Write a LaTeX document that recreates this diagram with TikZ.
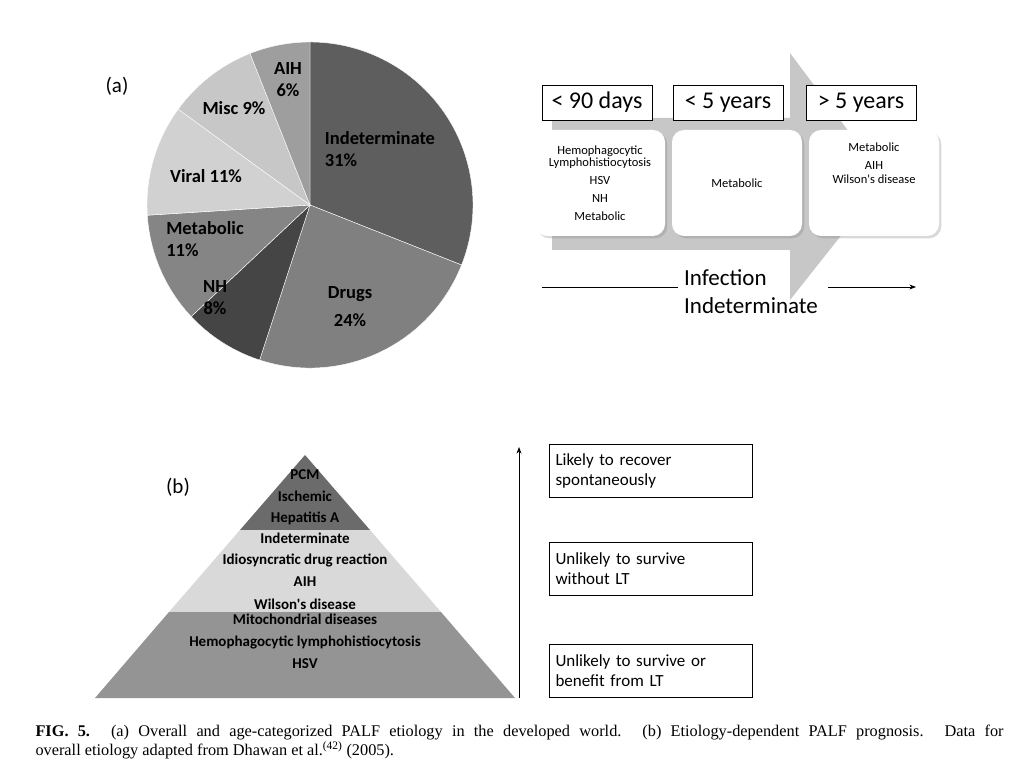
\documentclass[tikz,border=0pt]{standalone}
\usepackage{fontspec}
\setmainfont{Liberation Serif}
\newfontfamily\calib{Carlito}
\usetikzlibrary{arrows.meta, shadows}

\begin{document}
\begin{tikzpicture}[x=1pt, y=1pt,
    every node/.style={font=\calib},
    pielabel/.style={font=\calib\fontsize{18.5}{22}\selectfont\bfseries, align=left},
    agebox/.style={draw, thick, minimum width=110pt, minimum height=35pt, text height=17pt, text depth=5pt, fill=white, font=\calib\fontsize{24}{26}\selectfont},
    listbox/.style={fill=white, rounded corners=12pt, minimum width=130pt, minimum height=106pt, align=center, drop shadow={opacity=0.3}, font=\calib\fontsize{12.5}{18}\selectfont},
    layertext/.style={font=\calib\fontsize{15}{17}\selectfont\bfseries},
    outcome/.style={draw, thick, minimum width=203pt, minimum height=53pt, text width=190pt, align=left, font=\calib\fontsize{17}{20}\selectfont},
    arrow/.style={-Stealth, thick}
]
\useasboundingbox (0,0) rectangle (1024,774);

% (a) pie chart
\coordinate (pc) at (310,569);
\foreach \a/\b/\g in {90/-21.6/37, -21.6/-108/50, -108/-136.8/27, -136.8/-176.4/52, -176.4/-216/82, -216/-248.4/78, -248.4/-270/62}
  \fill[white!\g!black, draw=white, thin] (pc) -- ++(\a:163) arc[start angle=\a, end angle=\b, radius=163] -- cycle;
\node[font=\calib\fontsize{21}{24}\selectfont] (lbla) at (117,688) {(a)};
\node[pielabel, align=center] (paih) at (288,694) {AIH\\6\%};
\node[pielabel] (pmisc) at (234,666) {Misc 9\%};
\node[pielabel] (pind) at (380,625) {Indeterminate\\31\%};
\node[pielabel] (pvir) at (206,598) {Viral 11\%};
\node[pielabel] (pmet) at (205,535) {Metabolic\\11\%};
\node[pielabel, align=center] (pnh) at (215,476) {NH\\8\%};
\node[pielabel, align=center] (pdrg) at (350,467) {Drugs\\[6pt]24\%};

% age groups on a big arrow
\fill[black!22] (552,656) -- (790,656) -- (790,721) -- (885,594) -- (790,474) -- (790,524) -- (552,524) -- cycle;
\node[agebox] (age1) at (597,671) {< 90 days};
\node[agebox] (age2) at (728,671) {< 5 years};
\node[agebox] (age3) at (861,671) {> 5 years};
\node[listbox] (lst1) at (600,591) {Hemophagocytic\\[-6pt]Lymphohistiocytosis\\HSV\\NH\\Metabolic};
\node[listbox] (lst2) at (737,591) {Metabolic};
\node[listbox] (lst3) at (874,591) {Metabolic\\AIH\\[-4pt]Wilson's disease\\[22pt]{}};
\node[font=\calib\fontsize{23}{28}\selectfont, align=left] (inf) at (751,482) {Infection\\Indeterminate};
\coordinate (ls) at (542,487);
\coordinate (le) at (678,487);
\coordinate (rs) at (828,487);
\coordinate (re) at (916,487);
\draw[thick] (ls) -- (le);
\draw[arrow] (rs) -- (re);

% (b) pyramid
\fill[black!58] (305,319) -- (240,244) -- (370,244) -- cycle;
\fill[black!15] (240,244) -- (370,244) -- (441,162) -- (169,162) -- cycle;
\fill[black!42] (169,162) -- (441,162) -- (515,76) -- (95,76) -- cycle;
\node[font=\calib\fontsize{21}{24}\selectfont] (lblb) at (178,287) {(b)};
\foreach \t/\y in {PCM/299, Ischemic/278, Hepatitis A/256, Indeterminate/236, Idiosyncratic drug reaction/214, AIH/192, Wilson's disease/170, Mitochondrial diseases/155, Hemophagocytic lymphohistiocytosis/132, HSV/110}
  \node[layertext] at (305,\y) {\t};

% prognosis
\coordinate (ab) at (519,76);
\coordinate (at) at (519,327);
\draw[arrow] (ab) -- (at);
\node[outcome] (out1) at (650.5,303.5) {Likely to recover\\spontaneously};
\node[outcome] (out2) at (650.5,205.5) {Unlikely to survive\\without LT};
\node[outcome] (out3) at (650.5,103.5) {Unlikely to survive or\\benefit from LT};

% caption
\node[anchor=west, font=\fontsize{16.3}{19}\selectfont, text width=968pt, align=justify] (cap) at (32,32)
  {\textbf{FIG. 5.} (a) Overall and age-categorized PALF etiology in the developed world. (b) Etiology-dependent PALF prognosis. Data for\linebreak overall etiology adapted from Dhawan et al.\textsuperscript{(42)} (2005).};
\end{tikzpicture}
\end{document}
